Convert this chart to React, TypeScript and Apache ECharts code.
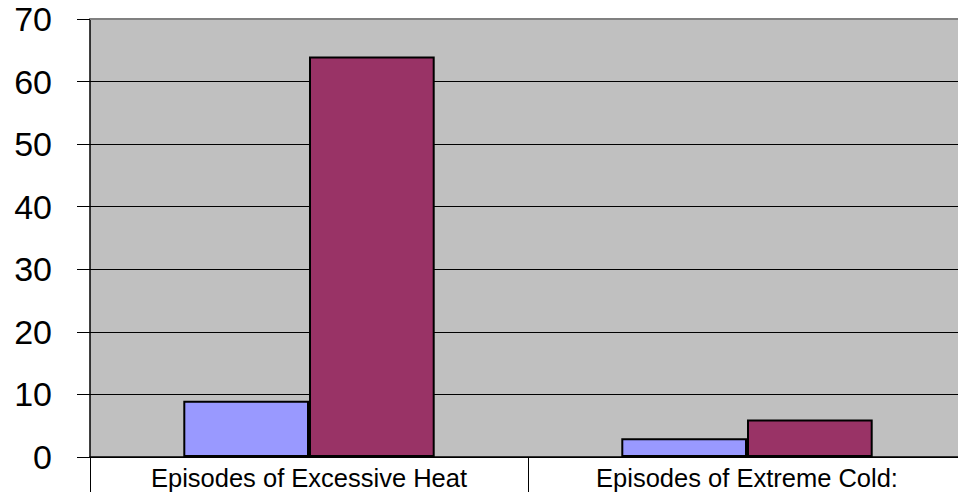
import React, { useEffect, useRef } from "react";
import * as echarts from "echarts";

const categories = ["Episodes of Excessive Heat", "Episodes of Extreme Cold:"];
const seriesA = [9, 3];
const seriesB = [64, 6];
const yTicks = [0, 10, 20, 30, 40, 50, 60, 70];

export default function App() {
  const ref = useRef<HTMLDivElement>(null);
  useEffect(() => {
    const chart = echarts.init(ref.current!, undefined, { renderer: "svg" });
    chart.setOption({
      animation: false,
      backgroundColor: "#ffffff",
      grid: {
        left: 90,
        width: 876,
        top: 19,
        height: 438,
        outerBoundsMode: "none",
        containLabel: false,
        show: true,
        backgroundColor: "#C0C0C0",
        borderWidth: 0,
      },
      xAxis: [
        {
          type: "category",
          data: categories,
          axisLine: { show: true, lineStyle: { color: "#000", width: 1.5 } },
          axisTick: { show: true, length: 35, lineStyle: { color: "#000", width: 1 } },
          axisLabel: {
            color: "#000",
            fontFamily: "Liberation Sans, Arial, sans-serif",
            fontSize: 25.5,
            margin: 8,
          },
        },
        {
          type: "category",
          position: "top",
          data: categories,
          axisLine: { show: true, lineStyle: { color: "#808080", width: 2 } },
          axisTick: { show: false },
          axisLabel: { show: false },
        },
      ],
      yAxis: {
        type: "value",
        min: yTicks[0],
        max: yTicks[yTicks.length - 1],
        interval: 10,
        axisLine: { show: true, lineStyle: { color: "#000", width: 1.5 } },
        axisTick: { show: true, length: 13, lineStyle: { color: "#000", width: 1 } },
        axisLabel: {
          color: "#000",
          fontFamily: "Liberation Sans, Arial, sans-serif",
          fontSize: 34,
          margin: 38,
        },
        splitLine: { show: true, lineStyle: { color: "#000", width: 1 } },
      },
      series: [
        {
          type: "bar",
          data: seriesA,
          barWidth: "28.7%",
          barGap: "0%",
          itemStyle: { color: "#9999FF", borderColor: "#000", borderWidth: 2 },
        },
        {
          type: "bar",
          data: seriesB,
          barWidth: "28.7%",
          itemStyle: { color: "#993366", borderColor: "#000", borderWidth: 2 },
        },
      ],
    });
    return () => chart.dispose();
  }, []);
  return <div ref={ref} style={{ width: 958, height: 492, position: "absolute", left: 0, top: 0 }} />;
}
